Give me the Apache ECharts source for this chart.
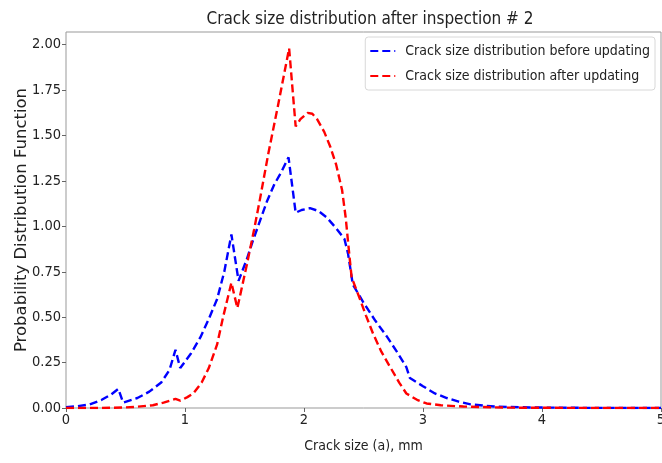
<!DOCTYPE html>
<html>
<head>
<meta charset="utf-8">
<script src="https://cdn.jsdelivr.net/npm/echarts@6/dist/echarts.min.js"></script>
<style>
html,body{margin:0;padding:0;background:#fff;}
#chart{width:662px;height:463px;}
</style>
</head>
<body>
<div id="chart"></div>
<script>
var titleText = 'Crack size distribution after inspection # 2';
var xAxisName = 'Crack size (a), mm';
var yAxisName = 'Probability Distribution Function';
var seriesNames = ['Crack size distribution before updating', 'Crack size distribution after updating'];
var xTicks = [0, 1, 2, 3, 4, 5];
var yTicks = [0, 0.25, 0.5, 0.75, 1.0, 1.25, 1.5, 1.75, 2.0];

var beforeX = [0, 0.1, 0.2, 0.3, 0.38, 0.44, 0.48, 0.6, 0.7, 0.8, 0.87, 0.92, 0.96, 1.05, 1.13, 1.2, 1.27, 1.33, 1.39, 1.45, 1.52, 1.57, 1.63, 1.69, 1.75, 1.81, 1.87, 1.93, 1.98, 2.05, 2.12, 2.19, 2.27, 2.34, 2.37, 2.41, 2.5, 2.6, 2.7, 2.78, 2.86, 2.89, 3.0, 3.1, 3.2, 3.3, 3.4, 3.6, 3.9, 4.3, 5.0];
var beforeY = [0.005, 0.01, 0.02, 0.045, 0.075, 0.105, 0.03, 0.055, 0.09, 0.14, 0.21, 0.32, 0.22, 0.3, 0.39, 0.49, 0.6, 0.75, 0.955, 0.7, 0.82, 0.92, 1.03, 1.14, 1.23, 1.3, 1.38, 1.075, 1.09, 1.1, 1.085, 1.05, 0.99, 0.93, 0.85, 0.68, 0.58, 0.48, 0.39, 0.31, 0.225, 0.165, 0.12, 0.08, 0.055, 0.035, 0.02, 0.008, 0.003, 0.001, 0];

var afterX = [0, 0.3, 0.5, 0.6, 0.73, 0.82, 0.92, 0.96, 1.02, 1.07, 1.14, 1.2, 1.27, 1.32, 1.39, 1.44, 1.52, 1.58, 1.63, 1.7, 1.78, 1.875, 1.93, 1.97, 2.03, 2.07, 2.11, 2.17, 2.22, 2.27, 2.32, 2.35, 2.38, 2.4, 2.47, 2.52, 2.58, 2.65, 2.72, 2.8, 2.86, 2.95, 3.03, 3.15, 3.34, 3.7, 4.5, 5.0];
var afterY = [0, 0, 0.003, 0.007, 0.015, 0.03, 0.05, 0.04, 0.06, 0.08, 0.14, 0.22, 0.35, 0.5, 0.69, 0.55, 0.79, 0.98, 1.15, 1.4, 1.66, 1.98, 1.55, 1.59, 1.625, 1.62, 1.59, 1.52, 1.44, 1.34, 1.2, 1.05, 0.85, 0.72, 0.6, 0.51, 0.41, 0.31, 0.23, 0.14, 0.08, 0.045, 0.025, 0.015, 0.008, 0.002, 0, 0];

function pairs(xs, ys) { return xs.map(function (x, i) { return [x, ys[i]]; }); }

var FONT = "'DejaVu Sans Condensed', 'Liberation Sans Narrow', sans-serif";
var chart = echarts.init(document.getElementById('chart'), null, { renderer: 'canvas' });
chart.setOption({
  animation: false,
  backgroundColor: '#fff',
  textStyle: { fontFamily: FONT },
  title: {
    text: titleText,
    left: 365,
    textAlign: 'center',
    top: 6,
    textStyle: { fontFamily: FONT, fontSize: 17, fontWeight: 'normal', color: '#222' }
  },
  legend: {
    orient: 'vertical',
    right: 7,
    top: 37,
    padding: [7, 5, 7, 4],
    itemGap: 11,
    itemWidth: 25,
    itemHeight: 14,
    backgroundColor: '#fff',
    borderColor: '#d8d8d8',
    borderWidth: 1,
    borderRadius: 3,
    itemStyle: { opacity: 0 },
    textStyle: { fontFamily: FONT, fontSize: 14, color: '#222', padding: [0, 0, 0, 5] },
    data: seriesNames
  },
  grid: {
    left: 66, right: 1, top: 32, bottom: 55,
    containLabel: false, outerBoundsMode: 'none',
    show: true, borderColor: '#999', borderWidth: 1, backgroundColor: '#fff'
  },
  xAxis: {
    type: 'value', min: 0, max: 5, interval: 1,
    name: xAxisName, nameLocation: 'middle', nameGap: 31, nameMoveOverlap: false,
    nameTextStyle: { fontFamily: FONT, fontSize: 14, color: '#222' },
    axisLine: { show: false },
    splitLine: { show: false },
    axisTick: { show: true, length: 4, lineStyle: { color: '#666' }, customValues: xTicks },
    axisLabel: { fontFamily: FONT, fontSize: 14.5, color: '#222', margin: 5, customValues: xTicks,
      formatter: function (v) { return String(v); } }
  },
  yAxis: {
    type: 'value', min: 0, max: 2.07,
    name: yAxisName, nameLocation: 'middle', nameGap: 36, nameMoveOverlap: false,
    nameTextStyle: { fontFamily: "'DejaVu Sans', sans-serif", fontSize: 16.5, color: '#222' },
    axisLine: { show: false },
    splitLine: { show: false },
    axisTick: { show: true, length: 4, lineStyle: { color: '#666' }, customValues: yTicks },
    axisLabel: { fontFamily: FONT, fontSize: 14.5, color: '#222', margin: 5, customValues: yTicks,
      formatter: function (v) { return v.toFixed(2); } }
  },
  series: [
    {
      name: seriesNames[0], type: 'line', data: pairs(beforeX, beforeY),
      symbol: 'none', showSymbol: false,
      lineStyle: { color: '#0000ff', width: 2.4, type: [8, 4] },
      itemStyle: { color: '#0000ff' }
    },
    {
      name: seriesNames[1], type: 'line', data: pairs(afterX, afterY),
      symbol: 'none', showSymbol: false,
      lineStyle: { color: '#ff0000', width: 2.4, type: [8, 4] },
      itemStyle: { color: '#ff0000' }
    }
  ]
});
</script>
</body>
</html>
